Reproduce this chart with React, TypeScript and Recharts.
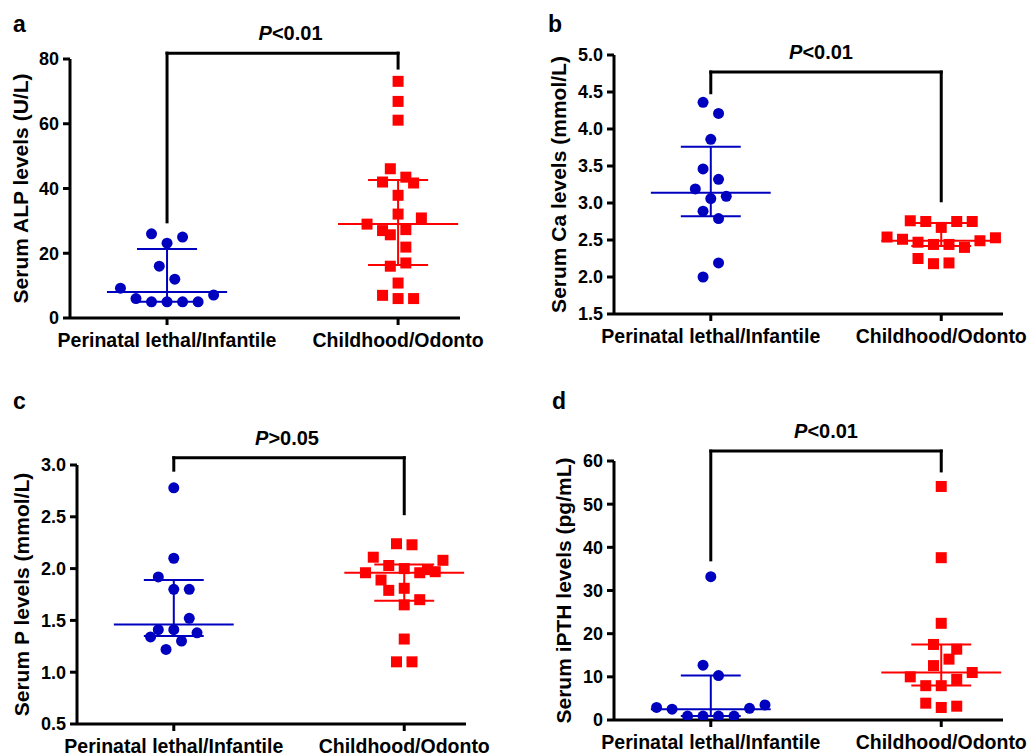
import React from 'react';
import { ScatterChart, Scatter, XAxis, YAxis, ReferenceLine } from 'recharts';

const groups = ['Perinatal lethal/Infantile', 'Childhood/Odonto'];

// a: serum ALP (U/L)
const alpInfant = [26, 25, 23.1, 16, 12, 9.2, 6, 5, 5, 5, 5, 7.1];
const alpInfantJit = [-2, 2, 0, -1, 1, -6, -4, -2, 0, 2, 4, 6];
const alpChild = [73.1, 66.9, 61.1, 46.1, 42, 43.5, 41.7, 37.9, 32.1, 30.9, 29, 27, 25.7, 27.3, 21.9, 16, 17, 10.8, 7, 6, 6];
const alpChildJit = [0, 0, 0, -1, -2, 1, 2, 0, 0, 3, -4, -2, -1, 1, 1, -1, 1, 0, -2, 0, 2];
const alpInfantStats = [5, 8, 21.3]; // q1, median, q3
const alpChildStats = [16.4, 29, 42.6];

// b: serum Ca (mmol/L)
const caInfant = [4.36, 4.21, 3.86, 3.46, 3.32, 3.19, 3.09, 3.06, 2.89, 2.79, 2.19, 2.0];
const caInfantJit = [-1, 1, 0, -1, 1, -2, 2, 0, -1, 1, 1, -1];
const caChild = [2.76, 2.75, 2.67, 2.75, 2.75, 2.54, 2.51, 2.47, 2.44, 2.44, 2.4, 2.49, 2.53, 2.25, 2.18, 2.19];
const caChildJit = [-4, -2, 0, 2, 4, -7, -5, -3, -1, 1, 3, 5, 7, -3, -1, 1];
const caInfantStats = [2.82, 3.14, 3.76];
const caChildStats = [2.42, 2.49, 2.73];

// c: serum P (mmol/L)
const pInfant = [2.78, 2.1, 1.92, 1.8, 1.8, 1.52, 1.41, 1.41, 1.34, 1.38, 1.3, 1.22];
const pInfantJit = [0, 0, -2, 0, 2, 2, -2, 0, -3, 3, 1, -1];
const pChild = [2.24, 2.23, 2.11, 2.08, 2.03, 2.0, 1.99, 1.96, 1.96, 1.97, 1.89, 1.79, 1.81, 1.7, 1.65, 1.32, 1.1, 1.1];
const pChildJit = [-1, 1, -4, 5, -2, 0, 3, -5, 2, 4, -3, -2, 0, 2, 0, 0, -1, 1];
const pInfantStats = [1.35, 1.46, 1.89];
const pChildStats = [1.69, 1.96, 2.04];

// d: serum iPTH (pg/mL)
const pthInfant = [33.2, 12.7, 10.3, 2.9, 2.5, 0.9, 0.9, 0.9, 0.9, 2.7, 3.5];
const pthInfantJit = [0, -1, 1, -7, -5, -3, -1, 1, 3, 5, 7];
const pthChild = [54.1, 37.6, 22.4, 17.5, 16.4, 14.1, 12.6, 10, 11, 9.4, 7.95, 7.95, 3.9, 2.9, 3.2];
const pthChildJit = [0, 0, 0, -1, 2, 1, -1, -4, 4, 2, -2, 0, -2, 0, 2];
const pthInfantStats = [0.9, 2.5, 10.3];
const pthChildStats = [8, 11, 17.5];

const BLUE = '#0000BF';
const RED = '#FF0000';
const FONT = '"Liberation Sans", Arial, Helvetica, sans-serif';
const JIT = 0.0336; // half a marker width, in category units
const W = 515;
const H = 377;

const Dot = (p: any) => <circle cx={p.cx} cy={p.cy} r={5.5} fill={BLUE} />;
const Sq = (p: any) => <rect x={p.cx - 5.5} y={p.cy - 5.5} width={11} height={11} fill={RED} />;

const toPoints = (vals: number[], jit: number[], center: number) =>
  vals.map((v, i) => ({ x: center + jit[i] * JIT, y: v }));

const statLines = (stats: number[], center: number, color: string, key: string) => {
  const [q1, med, q3] = stats;
  const segs = [
    [{ x: center - 0.26, y: med }, { x: center + 0.26, y: med }],
    [{ x: center - 0.13, y: q3 }, { x: center + 0.13, y: q3 }],
    [{ x: center - 0.13, y: q1 }, { x: center + 0.13, y: q1 }],
    [{ x: center, y: q1 }, { x: center, y: q3 }],
  ];
  return segs.map((s, i) => (
    <ReferenceLine key={key + i} segment={s} stroke={color} strokeWidth={2} ifOverflow="visible" />
  ));
};

interface PanelProps {
  left: number;
  top: number;
  letter: string;
  letterX: number;
  title: string;
  titleX: number;
  plot: { l: number; t: number; r: number; b: number };
  yDomain: [number, number];
  yTicks: number[];
  fmt: (v: number) => string;
  infant: number[];
  infantJit: number[];
  child: number[];
  childJit: number[];
  infantStats: number[];
  childStats: number[];
  bracket: { y: number; leftEnd: number; rightEnd: number; sign: string; dx: number };
}

const Panel: React.FC<PanelProps> = (p) => {
  const midY = (p.plot.t + p.plot.b) / 2;
  const titleContent = () => (
    <g>
      <text x={p.letterX} y={32} fontFamily={FONT} fontWeight="bold" fontSize={23} fill="#000">
        {p.letter}
      </text>
      <text
        x={p.titleX}
        y={midY}
        transform={`rotate(-90, ${p.titleX}, ${midY})`}
        textAnchor="middle"
        fontFamily={FONT}
        fontWeight="bold"
        fontSize={21}
        fill="#000"
      >
        {p.title}
      </text>
    </g>
  );
  const pContent = (lp: any) => {
    const vb = lp.viewBox || {};
    const cx = (vb.x ?? 0) + (vb.width ?? 0) / 2 + p.bracket.dx;
    return (
      <text x={cx} y={(vb.y ?? 0) - 13} textAnchor="middle" fontFamily={FONT} fontWeight="bold" fontSize={20} fill="#000">
        <tspan fontStyle="italic">P</tspan>
        {p.bracket.sign}
      </text>
    );
  };

  return (
    <div style={{ position: 'absolute', left: p.left, top: p.top, width: W, height: H }}>
      <ScatterChart
        width={W}
        height={H}
        margin={{ top: p.plot.t, right: W - p.plot.r, left: 0, bottom: H - p.plot.b - 20 }}
      >
        <XAxis
          type="number"
          dataKey="x"
          domain={[0.58, 2.268]}
          ticks={[1, 2]}
          interval={0}
          height={20}
          tickFormatter={(v: number) => groups[v - 1]}
          axisLine={{ stroke: '#000', strokeWidth: 3 }}
          tickLine={{ stroke: '#000', strokeWidth: 3 }}
          tickSize={7}
          tickMargin={8}
          tick={{ fill: '#000', fontSize: 19.5, fontWeight: 'bold', fontFamily: FONT }}
          allowDataOverflow
        />
        <YAxis
          type="number"
          dataKey="y"
          width={p.plot.l}
          domain={p.yDomain}
          ticks={p.yTicks}
          interval={0}
          tickFormatter={p.fmt}
          axisLine={{ stroke: '#000', strokeWidth: 3 }}
          tickLine={{ stroke: '#000', strokeWidth: 3 }}
          tickSize={7}
          tickMargin={4}
          tick={{ fill: '#000', fontSize: 18, fontWeight: 'bold', fontFamily: FONT }}
          allowDataOverflow
          label={{ content: titleContent }}
        />
        <Scatter data={toPoints(p.infant, p.infantJit, 1)} shape={Dot} isAnimationActive={false} />
        <Scatter data={toPoints(p.child, p.childJit, 2)} shape={Sq} isAnimationActive={false} />
        {statLines(p.infantStats, 1, BLUE, 'i')}
        {statLines(p.childStats, 2, RED, 'c')}
        <ReferenceLine
          segment={[{ x: 1, y: p.bracket.y }, { x: 2, y: p.bracket.y }]}
          stroke="#000"
          strokeWidth={3}
          strokeLinecap="square"
          ifOverflow="visible"
          label={{ content: pContent }}
        />
        <ReferenceLine
          segment={[{ x: 1, y: p.bracket.y }, { x: 1, y: p.bracket.leftEnd }]}
          stroke="#000"
          strokeWidth={3}
          strokeLinecap="square"
          ifOverflow="visible"
        />
        <ReferenceLine
          segment={[{ x: 2, y: p.bracket.y }, { x: 2, y: p.bracket.rightEnd }]}
          stroke="#000"
          strokeWidth={3}
          strokeLinecap="square"
          ifOverflow="visible"
        />
      </ScatterChart>
    </div>
  );
};

const int = (v: number) => String(v);
const dec = (v: number) => v.toFixed(1);

export default function App() {
  return (
    <div style={{ position: 'absolute', left: 0, top: 0, width: 1030, height: 754, background: '#fff', overflow: 'hidden' }}>
      <Panel
        left={0}
        top={0}
        letter="a"
        letterX={13}
        title="Serum ALP levels (U/L)"
        titleX={28}
        plot={{ l: 70, t: 59, r: 460, b: 318 }}
        yDomain={[0, 80]}
        yTicks={[0, 20, 40, 60, 80]}
        fmt={int}
        infant={alpInfant}
        infantJit={alpInfantJit}
        child={alpChild}
        childJit={alpChildJit}
        infantStats={alpInfantStats}
        childStats={alpChildStats}
        bracket={{ y: 81.8, leftEnd: 29.7, rightEnd: 77.2, sign: '<0.01', dx: 8 }}
      />
      <Panel
        left={515}
        top={0}
        letter="b"
        letterX={33}
        title="Serum Ca levels (mmol/L)"
        titleX={51}
        plot={{ l: 99, t: 55, r: 488, b: 314 }}
        yDomain={[1.5, 5]}
        yTicks={[1.5, 2, 2.5, 3, 3.5, 4, 4.5, 5]}
        fmt={dec}
        infant={caInfant}
        infantJit={caInfantJit}
        child={caChild}
        childJit={caChildJit}
        infantStats={caInfantStats}
        childStats={caChildStats}
        bracket={{ y: 4.77, leftEnd: 4.49, rightEnd: 3.03, sign: '<0.01', dx: -5 }}
      />
      <Panel
        left={0}
        top={377}
        letter="c"
        letterX={13}
        title="Serum P levels (mmol/L)"
        titleX={29}
        plot={{ l: 77, t: 88, r: 466, b: 347 }}
        yDomain={[0.5, 3]}
        yTicks={[0.5, 1, 1.5, 2, 2.5, 3]}
        fmt={dec}
        infant={pInfant}
        infantJit={pInfantJit}
        child={pChild}
        childJit={pChildJit}
        infantStats={pInfantStats}
        childStats={pChildStats}
        bracket={{ y: 3.07, leftEnd: 2.95, rightEnd: 2.53, sign: '>0.05', dx: -2 }}
      />
      <Panel
        left={515}
        top={377}
        letter="d"
        letterX={37}
        title="Serum iPTH levels (pg/mL)"
        titleX={56}
        plot={{ l: 99, t: 84, r: 488, b: 343 }}
        yDomain={[0, 60]}
        yTicks={[0, 10, 20, 30, 40, 50, 60]}
        fmt={int}
        infant={pthInfant}
        infantJit={pthInfantJit}
        child={pthChild}
        childJit={pthChildJit}
        infantStats={pthInfantStats}
        childStats={pthChildStats}
        bracket={{ y: 62.3, leftEnd: 37.1, rightEnd: 57.7, sign: '<0.01', dx: 0 }}
      />
    </div>
  );
}
